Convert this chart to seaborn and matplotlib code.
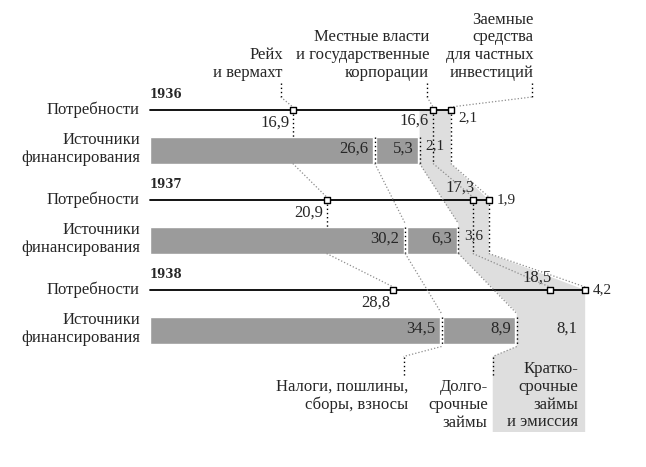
import numpy as np
import pandas as pd
import matplotlib
matplotlib.use('Agg')
import matplotlib.pyplot as plt
from matplotlib.patches import Polygon
import seaborn as sns

# ---------------- data ----------------
years = ['1936', '1937', '1938']
reich = [16.9, 20.9, 28.8]          # Рейх и вермахт
local = [16.6, 17.3, 18.5]          # Местные власти и гос. корпорации
private = [2.1, 1.9, 4.2]           # Заемные средства для частных инвестиций
taxes = [26.6, 30.2, 34.5]          # Налоги, пошлины, сборы, взносы
longterm = [5.3, 6.3, 8.9]          # Долгосрочные займы
shortterm = [2.1, 3.6, 8.1]         # Краткосрочные займы и эмиссия

row_labels = ['Потребности', 'Источники\nфинансирования']
need_names = ['Рейх\nи вермахт',
              'Местные власти\nи государственные\nкорпорации',
              'Заемные\nсредства\nдля частных\nинвестиций']
src_names = ['Налоги, пошлины,\nсборы, взносы',
             'Долго-\nсрочные\nзаймы',
             'Кратко-\nсрочные\nзаймы\nи эмиссия']


def fmt(v):
    return f'{v:.1f}'.replace('.', ',')


# ---------------- style ----------------
sns.set_theme(style='white')
plt.rcParams['font.family'] = ['Liberation Serif', 'DejaVu Serif']

DARK = '#9b9b9b'
LIGHT = '#dedede'
W, H = 646, 467
PX = 8.45      # pixels per unit
X0 = 150       # left of the value axis in pixels

fig = plt.figure(figsize=(W / 100, H / 100), dpi=100)
ax = fig.add_axes([0, 0, 1, 1])

FS = 12
LS = 1.15
u = 1.0 / PX  # one pixel in data units

need_y = [110 + 90 * i for i in range(3)]
bar_c = [y + 40 for y in need_y]
bar_h = 27
bar_top = [c - bar_h / 2 for c in bar_c]
bar_bot = [c + bar_h / 2 for c in bar_c]

c1 = np.array(reich)
c2 = c1 + np.array(local)
c3 = c2 + np.array(private)
s1 = np.array(taxes)
s2 = s1 + np.array(longterm)
s3 = s2 + np.array(shortterm)

bottom_y = 432
xb = s2[2] - 24 * u      # leader offset for "Долгосрочные займы"
xt = s1[2] - 38 * u      # leader offset for "Налоги..."

# light band (short-term loans & emission)
verts = [(s2[0], need_y[0]), (c3[0], need_y[0]), (c3[0], bar_bot[0]),
         (c3[1], need_y[1]), (c3[1], bar_bot[1]), (c3[2], need_y[2]),
         (c3[2], bottom_y), (xb, bottom_y), (xb, bar_bot[2] + 13),
         (s2[2], bar_bot[2] + 3), (s2[2], bar_top[2] - 4),
         (s2[1], bar_bot[1]), (s2[1], bar_top[1] - 3), (s2[0], bar_bot[0])]
ax.add_patch(Polygon(verts, closed=True, facecolor=LIGHT, edgecolor='none', zorder=0))

# dark stacked bars
gap = 1.6 * u
for i in range(3):
    ax.barh(bar_c[i], s1[i] - gap, left=0, height=bar_h, color=DARK, zorder=1)
    ax.barh(bar_c[i], longterm[i] - 2 * gap, left=s1[i] + gap, height=bar_h, color=DARK, zorder=1)

# needs lines
for i in range(3):
    ax.plot([0, c3[i]], [need_y[i], need_y[i]], color='black', lw=1.3, zorder=2)

mk = pd.DataFrame({'x': np.concatenate([c1, c2, c3]),
                   'y': need_y * 3})
sns.scatterplot(data=mk, x='x', y='y', marker='s', s=22, color='white',
                edgecolor='black', linewidth=1.0, ax=ax, zorder=5, legend=False)
ax.set_xlim(-X0 / PX, (W - X0) / PX)
ax.set_ylim(H, 0)
ax.axis('off')

dk = dict(color='black', lw=1.0, ls=(0, (1, 2)), zorder=3)
gr = dict(color='#8c8c8c', lw=0.9, ls=(0, (1, 1.6)), zorder=3)

# leaders for needs: top labels
top_y0, top_y1 = 83, 97
x_top = [c1[0] - 12 * u, c2[0] - 6 * u, c3[0] + 81 * u]
for xv, xl in zip([c1[0], c2[0], c3[0]], x_top):
    ax.plot([xl, xl], [top_y0, top_y1], **dk)
    ax.plot([xl, xv], [top_y1, need_y[0] - 3], **gr)

# vertical/diagonal chains for each needs series
for c in (c1, c2, c3):
    for i in range(2):
        y_end = bar_top[i] if c is c1 else bar_bot[i]
        ax.plot([c[i], c[i]], [need_y[i] + 4, y_end], **dk)
        ax.plot([c[i], c[i + 1]], [bar_bot[i], need_y[i + 1] - 3], **gr)

# source leaders (taxes and long-term)
for s, xe in [(s1, xt), (s2, xb)]:
    for i in range(3):
        ax.plot([s[i], s[i]], [bar_top[i], bar_bot[i]], **dk)
        if i < 2:
            ax.plot([s[i], s[i + 1]], [bar_bot[i], bar_top[i + 1] - 3], **gr)
    ax.plot([s[2], xe], [bar_bot[2] + 3, bar_bot[2] + 13], **gr)
    ax.plot([xe, xe], [bar_bot[2] + 13, 377], **dk)

# ---------------- texts ----------------
for i in range(3):
    ax.text(0, need_y[i] - 15, years[i], fontsize=8.5, fontweight='bold',
            ha='left', va='center', family=['DejaVu Serif'])
    ax.text(-10 * u, need_y[i], row_labels[0], fontsize=FS, ha='right', va='center')
    ax.text(-10 * u, bar_c[i] - 1, row_labels[1], fontsize=FS, ha='right', va='center',
            linespacing=LS)

    # needs values
    ax.text(c1[i] - 3 * u, need_y[i] + 13, fmt(reich[i]), fontsize=FS, ha='right', va='center')
    if i == 0:
        ax.text(c2[i] - 4 * u, need_y[i] + 11, fmt(local[i]), fontsize=FS, ha='right', va='center')
    else:
        ax.text(c2[i] + 2 * u, need_y[i] - 12, fmt(local[i]), fontsize=FS, ha='right', va='center')
    ax.text(c3[i] + 8 * u, need_y[i] + (8 if i == 0 else 0), fmt(private[i]),
            fontsize=FS - 1, ha='left', va='center')

    # source values
    ax.text(s1[i] - 6 * u, bar_c[i] - 1, fmt(taxes[i]), fontsize=FS, ha='right', va='center')
    ax.text(s2[i] - 6 * u, bar_c[i] - 1, fmt(longterm[i]), fontsize=FS, ha='right', va='center')
    if i < 2:
        ax.text(s2[i] + 6 * u, bar_c[i] - 4, fmt(shortterm[i]), fontsize=FS - 1,
                ha='left', va='center')
    else:
        ax.text(s3[i] - 8 * u, bar_c[i] - 1, fmt(shortterm[i]), fontsize=FS,
                ha='right', va='center')

# top category labels
for name, xl in zip(need_names, x_top):
    ax.text(xl + 2 * u, 81, name, fontsize=FS, ha='right', va='bottom', linespacing=LS)

# bottom category labels
ax.text(xt + 5 * u, 379, src_names[0], fontsize=FS, ha='right', va='top', linespacing=LS)
ax.text(xb - 5 * u, 379, src_names[1], fontsize=FS, ha='right', va='top', linespacing=LS)
ax.text(s3[2] - 7 * u, 361, src_names[2], fontsize=FS, ha='right', va='top', linespacing=LS)

fig.savefig('out.png', dpi=100, facecolor='white')
